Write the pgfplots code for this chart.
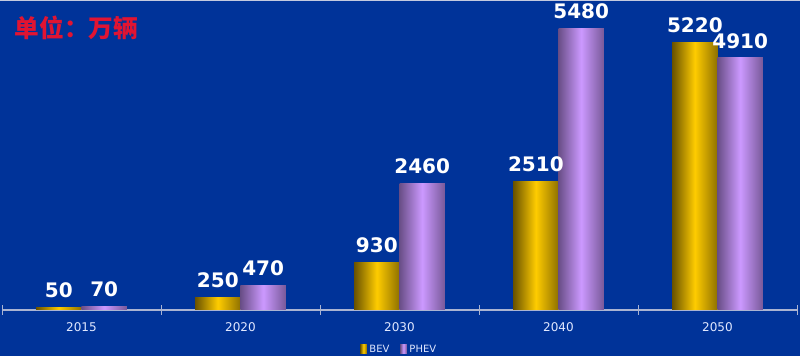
\documentclass[border=0pt]{standalone}
\usepackage{pgfplots}
\pgfplotsset{compat=1.18}
\usepackage{fontspec}
\setmainfont{DejaVu Sans}
\newfontfamily\cjk{Noto Sans CJK SC}
\definecolor{bgblue}{RGB}{0,51,153}
\definecolor{bevlight}{RGB}{255,204,0}
\definecolor{bevdark}{RGB}{105,82,0}
\definecolor{phevlight}{RGB}{204,153,255}
\definecolor{phevdark}{RGB}{105,78,135}
\definecolor{axisgray}{RGB}{170,180,210}
\definecolor{ticktext}{RGB}{225,232,255}
\definecolor{titlered}{RGB}{225,20,50}
\pgfplotsset{
  bev/.style={ybar, bar width=34pt, bar shift=-17pt, draw=none,
    left color=bevdark, right color=bevdark!75!bevlight, middle color=bevlight,
    every node near coord/.append style={xshift=-17pt}},
  phev/.style={ybar, bar width=34pt, bar shift=17pt, draw=none,
    left color=phevdark, right color=phevdark!85!phevlight, middle color=phevlight,
    every node near coord/.append style={xshift=17pt}},
}
\begin{document}
\begin{tikzpicture}
\fill[bgblue] (0,0) rectangle (600pt,267pt);
\useasboundingbox (0,0) rectangle (600pt,267pt);
\draw[axisgray!70!white, line width=1pt] (0,266.6pt) -- (600pt,266.6pt);
\node[anchor=west, text=titlered, font=\cjk\bfseries\fontsize{18.5}{19}\selectfont, inner sep=0pt] at (11pt,246pt) {单位：万辆};
\begin{axis}[
  at={(1.5pt,34.5pt)}, anchor=south west,
  width=596.25pt, height=231pt, scale only axis,
  xmin=-0.5, xmax=4.5, ymin=0, ymax=6000,
  axis x line*=bottom, axis y line=none,
  x axis line style={draw=axisgray, line width=0.8pt},
  xtick={0,1,2,3,4},
  xticklabels={2015,2020,2030,2040,2050},
  major x tick style={draw=none},
  minor xtick={-0.5,0.5,1.5,2.5,3.5,4.5},
  minor x tick style={draw=axisgray, line width=0.6pt},
  minor tick length=7pt, tick align=center,
  x tick label style={font=\fontsize{9}{10}\selectfont, text=ticktext, yshift=-4pt},
  clip=false,
  nodes near coords,
  /pgf/number format/assume math mode=true,
  /pgf/number format/1000 sep={},
  every node near coord/.append style={font=\bfseries\fontsize{15}{15}\selectfont, text=white, inner sep=2pt, yshift=5pt},
  legend style={at={(0.5,-0.128)}, anchor=center, draw=none, fill=none, legend columns=2,
    font=\fontsize{7.5}{8}\selectfont, text=ticktext, inner sep=0pt,
    /tikz/every even column/.append style={column sep=6pt}},
  legend image code/.code={\fill[#1] (0pt,-3pt) rectangle (5pt,4pt);},
]
\addplot[bev] coordinates {(0,50)};
\addplot[phev] coordinates {(0,70)};
\addplot[bev, forget plot] coordinates {(1,250)};
\addplot[phev, forget plot] coordinates {(1,470)};
\addplot[bev, forget plot] coordinates {(2,930)};
\addplot[phev, forget plot] coordinates {(2,2460)};
\addplot[bev, forget plot] coordinates {(3,2510)};
\addplot[phev, forget plot] coordinates {(3,5480)};
\addplot[bev, forget plot] coordinates {(4,5220)};
\addplot[phev, forget plot] coordinates {(4,4910)};
\legend{BEV,PHEV}
\end{axis}
\end{tikzpicture}
\end{document}
